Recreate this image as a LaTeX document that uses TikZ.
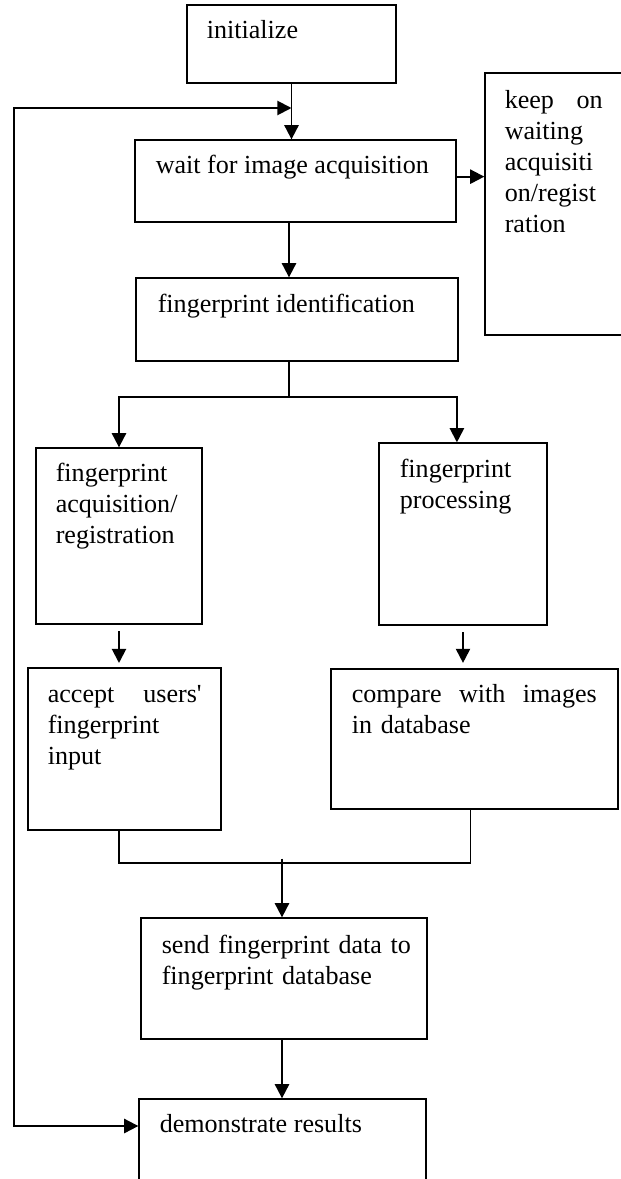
\documentclass[tikz,border=0pt]{standalone}
\usepackage{fontspec}
\setmainfont{Liberation Serif}[Ligatures=TeXOff]
\usetikzlibrary{arrows.meta,calc,positioning}

\begin{document}
\begin{tikzpicture}[x=0.46pt,y=-0.46pt,>={Triangle[length=6.5pt,width=6.5pt]},
	box/.style={draw,line width=0.6pt,inner sep=0pt},
	txt/.style={anchor=base west,inner sep=0pt,font=\fontsize{12pt}{14.3pt}\selectfont},
	flow/.style={->,line width=0.9pt},
	link/.style={line width=0.6pt}]
	\useasboundingbox (0,0) rectangle (620,1179);
	% boxes
	\node[box,minimum width=209*0.46pt,minimum height=78*0.46pt] (init) at (291.5,44) {};
	\node[box,minimum width=321*0.46pt,minimum height=82*0.46pt] (wait) at (295.5,181) {};
	\node[box,minimum width=145*0.46pt,minimum height=262*0.46pt] (keep) at (557.5,204) {};
	\node[box,minimum width=322*0.46pt,minimum height=83*0.46pt] (ident) at (297,319.5) {};
	\node[box,minimum width=166*0.46pt,minimum height=176*0.46pt] (acq) at (119,536) {};
	\node[box,minimum width=168*0.46pt,minimum height=182*0.46pt] (proc) at (463,534) {};
	\node[box,minimum width=193*0.46pt,minimum height=162*0.46pt] (accept) at (124.5,749) {};
	\node[box,minimum width=287*0.46pt,minimum height=140*0.46pt] (compare) at (474.5,739) {};
	\node[box,minimum width=286*0.46pt,minimum height=121*0.46pt] (send) at (284,978.5) {};
	\node[box,minimum width=287*0.46pt,minimum height=91*0.46pt] (demo) at (282.5,1144.5) {};
	% texts
	\node[txt] (init-t) at ([shift={(20,34)}]init.north west) {initialize};
	\node[txt] (wait-t) at ([shift={(21,34)}]wait.north west) {wait for image acquisition};
	\node[txt,text width=45pt] (keep-t) at ([shift={(20,36)}]keep.north west) {keep\hfill on\\waiting\\acquisiti\\on/regist\\ration};
	\node[txt] (ident-t) at ([shift={(22,35)}]ident.north west) {fingerprint identification};
	\node[txt,text width=70pt] (acq-t) at ([shift={(20,34)}]acq.north west) {fingerprint\\acquisition/\\registration};
	\node[txt,text width=70pt] (proc-t) at ([shift={(21,35)}]proc.north west) {fingerprint\\processing};
	\node[txt,text width=70.8pt] (accept-t) at ([shift={(20,35)}]accept.north west) {accept\hfill users'\\fingerprint\\input};
	\node[txt,text width=112.7pt] (compare-t) at ([shift={(21,34)}]compare.north west) {compare\hfill with\hfill images\\in database};
	\node[txt,text width=120pt] (send-t) at ([shift={(21,36)}]send.north west) {send fingerprint data to\\fingerprint database};
	\node[txt] (demo-t) at ([shift={(21,34)}]demo.north west) {demonstrate results};
	% junctions
	\coordinate (join) at (init.south |- 0,108);
	\coordinate (loopTop) at (14,108);
	\coordinate (loopBot) at (14,1126);
	\coordinate (split) at (289,397);
	\coordinate (merge) at (282,863);
	% connectors
	\draw[flow] (init.south) -- (init.south |- wait.north);
	\draw[flow,<->] (join) -- (loopTop) -- (loopBot) -- (loopBot -| demo.west);
	\draw[flow] ([yshift=2pt]wait.east) -- ([yshift=2pt]wait.east -| keep.west);
	\draw[flow] (wait.south -| split) -- (ident.north -| split);
	\draw[link] (ident.south -| split) -- (split);
	\draw[flow] (split) -| (acq.north);
	\draw[flow] (split) -| ([xshift=-2.8pt]proc.north);
	\draw[flow,shorten <=3pt,shorten >=2pt] (acq.south) -- (acq.south |- accept.north);
	\draw[flow,shorten <=3pt,shorten >=2.5pt] (proc.south) -- (proc.south |- compare.north);
	\draw[link] (accept.south -| acq.south) |- (merge) -| ([xshift=-2pt]compare.south);
	\draw[flow] ([yshift=2pt]merge) -- (merge |- send.north);
	\draw[flow] (send.south -| merge) -- (demo.north -| merge);
\end{tikzpicture}
\end{document}
